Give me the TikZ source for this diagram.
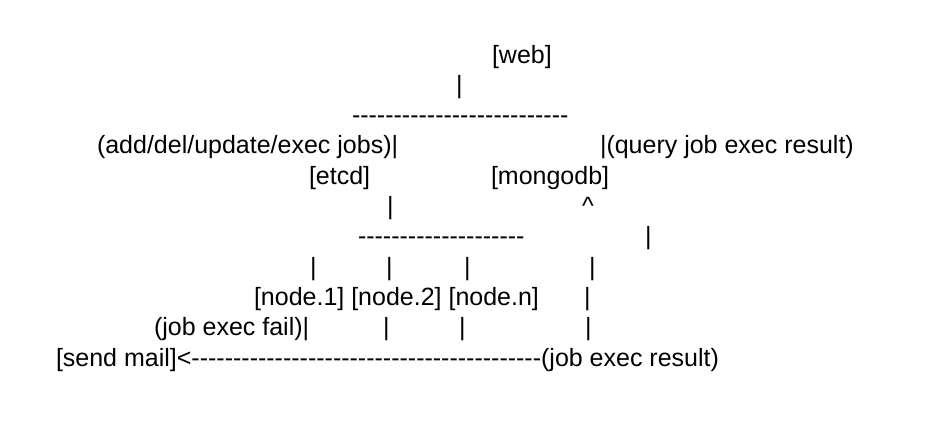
\documentclass[tikz,border=0pt]{standalone}
\usepackage{fontspec}
\setmainfont{Liberation Sans}[Ligatures=TeXOff]
\begin{document}
\begin{tikzpicture}[x=1pt,y=-1pt,
  txt/.style={anchor=base west,inner sep=0pt,outer sep=0pt,font=\fontsize{25}{30}\selectfont}]
\useasboundingbox[fill=white] (0,0) rectangle (943,421);
% line 1
\node[txt] (web) at (492,63) {[web]};
% line 2
\node[txt] (webbar) at (456,93.3) {\textbar};
% line 3
\node[txt] (split1) at (352,123.6) {--------------------------};
% line 4
\node[txt] (addjobs) at (97,153.9) {(add/del/update/exec jobs)\textbar};
\node[txt] (query) at (600,153.9) {\textbar(query job exec result)};
% line 5
\node[txt] (etcd) at (309,184.2) {[etcd]};
\node[txt] (mongo) at (491,184.2) {[mongodb]};
% line 6
\node[txt] (etcdbar) at (387,214.5) {\textbar};
\node[txt] (caret) at (582,214.5) {\textasciicircum};
% line 7
\node[txt] (split2) at (358,244.8) {--------------------};
\node[txt] (resbar1) at (645,244.8) {\textbar};
% line 8
\node[txt] (b1) at (310,275.1) {\textbar};
\node[txt] (b2) at (386,275.1) {\textbar};
\node[txt] (b3) at (464,275.1) {\textbar};
\node[txt] (resbar2) at (589,275.1) {\textbar};
% line 9
\node[txt] (nodes) at (254,305.4) {[node.1] [node.2] [node.n]};
\node[txt] (resbar3) at (584,305.4) {\textbar};
% line 10
\node[txt] (fail) at (154,335.7) {(job exec fail)\textbar};
\node[txt] (c2) at (383,335.7) {\textbar};
\node[txt] (c3) at (459,335.7) {\textbar};
\node[txt] (resbar4) at (585,335.7) {\textbar};
% line 11
\node[txt] (mail) at (56,366) {[send mail]};
\node[txt] (arrow) at (mail.base east) {<------------------------------------------};
\node[txt] (result) at (arrow.base east) {(job exec result)};
\end{tikzpicture}
\end{document}
